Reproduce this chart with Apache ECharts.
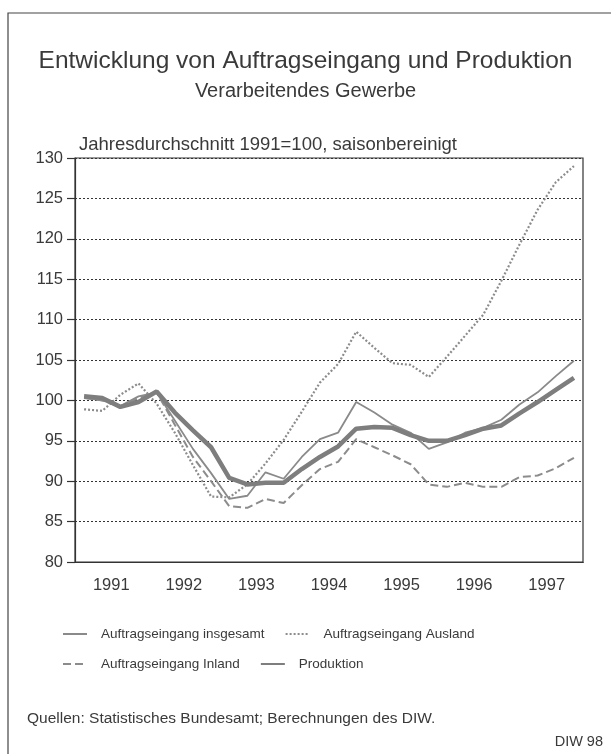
<!DOCTYPE html>
<html>
<head>
<meta charset="utf-8">
<script src="https://cdn.jsdelivr.net/npm/echarts@6/dist/echarts.min.js"></script>
<style>
  html, body { margin: 0; padding: 0; background: #fff; }
  #chart { width: 611px; height: 754px; }
</style>
</head>
<body>
<div id="chart"></div>
<script>
// Quartale 1991 I bis 1997 IV
var quarters = [];
var years = ["1991", "1992", "1993", "1994", "1995", "1996", "1997"];
years.forEach(function (y) {
  for (var q = 1; q <= 4; q++) quarters.push(y + " Q" + q);
});

var insgesamt = [100.3, 100.0, 99.3, 100.5, 101.0, 97.5, 94.0, 91.0, 87.8, 88.2, 91.1, 90.3, 93.0, 95.2, 96.0, 99.8,
                 98.5, 97.0, 96.0, 94.0, 94.8, 96.0, 96.6, 97.6, 99.5, 101.0, 103.0, 104.9];
var ausland = [98.9, 98.7, 100.7, 102.1, 99.6, 96.0, 92.0, 88.1, 88.0, 89.6, 92.2, 95.1, 98.6, 102.2, 104.5, 108.5,
               106.5, 104.6, 104.4, 102.9, 105.4, 108.0, 110.6, 114.8, 119.3, 123.6, 127.0, 129.0];
var inland = [100.3, 100.0, 99.2, 100.3, 101.0, 97.0, 93.0, 90.0, 86.9, 86.7, 87.8, 87.3, 89.5, 91.5, 92.4, 95.2,
              94.2, 93.2, 92.1, 89.6, 89.3, 89.8, 89.3, 89.3, 90.5, 90.7, 91.6, 92.9];
var produktion = [100.5, 100.3, 99.2, 99.8, 101.1, 98.5, 96.3, 94.2, 90.4, 89.6, 89.8, 89.8, 91.5, 93.0, 94.3, 96.5,
                  96.7, 96.6, 95.7, 95.0, 95.0, 95.7, 96.5, 96.9, 98.4, 99.8, 101.3, 102.8];
var yTicks = [80, 130, 5];

var myChart = echarts.init(document.getElementById("chart"));
var textColor = "#3a3a3a";
var font = "Liberation Sans";

var option = {
  backgroundColor: "#fff",
  animation: false,
  textStyle: { fontFamily: font },
  title: [
    { text: "Entwicklung von Auftragseingang und Produktion", left: "center", top: 44,
      textStyle: { fontSize: 24.5, fontWeight: "normal", color: textColor, fontFamily: font } },
    { text: "Verarbeitendes Gewerbe", left: "center", top: 76,
      textStyle: { fontSize: 20, fontWeight: "normal", color: textColor, fontFamily: font } },
    { text: "Jahresdurchschnitt 1991=100, saisonbereinigt", left: 74, top: 130,
      textStyle: { fontSize: 18.5, fontWeight: "normal", color: textColor, fontFamily: font } },
    { text: "Quellen: Statistisches Bundesamt; Berechnungen des DIW.", left: 22, top: 706,
      textStyle: { fontSize: 15.5, fontWeight: "normal", color: textColor, fontFamily: font } },
    { text: "DIW 98", right: 3, top: 729,
      textStyle: { fontSize: 14.5, fontWeight: "normal", color: textColor, fontFamily: font } }
  ],
  legend: [
    { data: ["Auftragseingang insgesamt", "Auftragseingang Ausland"], left: 57, top: 622,
      itemWidth: 24, itemHeight: 10, itemGap: 20, itemStyle: { opacity: 0 },
      textStyle: { fontSize: 13.5, color: textColor, padding: [0, 0, 0, 9] } },
    { data: ["Auftragseingang Inland", "Produktion"], left: 57, top: 652,
      itemWidth: 24, itemHeight: 10, itemGap: 20, itemStyle: { opacity: 0 },
      textStyle: { fontSize: 13.5, color: textColor, width: 160, padding: [0, 0, 0, 9] } }
  ],
  graphic: [
    { type: "polyline", shape: { points: [[8, 754], [8, 13], [611, 13]] },
      style: { stroke: "#444", lineWidth: 1.2, fill: null } }
  ],
  grid: { left: 75, right: 28, top: 158, bottom: 192, show: true, borderColor: "#333", borderWidth: 1.2 },
  xAxis: [
    { type: "category", data: quarters, boundaryGap: true,
      axisLine: { lineStyle: { color: "#333", width: 1.2 } },
      axisTick: { interval: 0, length: 7, lineStyle: { color: "#333", width: 1.2 } },
      axisLabel: { show: false }, splitLine: { show: false } },
    { type: "category", data: years, boundaryGap: true, position: "bottom",
      axisLine: { lineStyle: { color: "#333", width: 1.2 } },
      axisTick: { interval: 0, length: 13, lineStyle: { color: "#333", width: 1.2 } },
      axisLabel: { fontSize: 16.5, color: textColor, margin: 15 } }
  ],
  yAxis: {
    type: "value", min: yTicks[0], max: yTicks[1], interval: yTicks[2],
    axisLine: { show: true, lineStyle: { color: "#333", width: 1.2 } },
    axisTick: { show: true, length: 8, lineStyle: { color: "#333", width: 1.2 } },
    axisLabel: { fontSize: 16.5, color: textColor, margin: 12 },
    splitLine: { show: true, lineStyle: { color: "#333", type: [2, 2], width: 1 } }
  },
  series: [
    { name: "Auftragseingang insgesamt", type: "line", data: insgesamt, symbol: "none",
      lineStyle: { color: "#8a8a8a", width: 1.8 }, itemStyle: { color: "#8a8a8a" } },
    { name: "Auftragseingang Ausland", type: "line", data: ausland, symbol: "none",
      lineStyle: { color: "#8c8c8c", width: 2.2, type: [2, 2] }, itemStyle: { color: "#8c8c8c" } },
    { name: "Auftragseingang Inland", type: "line", data: inland, symbol: "none",
      lineStyle: { color: "#8c8c8c", width: 2, type: [8, 4] }, itemStyle: { color: "#8c8c8c" } },
    { name: "Produktion", type: "line", data: produktion, symbol: "none",
      lineStyle: { color: "#7e7e7e", width: 4.5 }, itemStyle: { color: "#7e7e7e" } }
  ]
};

myChart.setOption(option);
window.addEventListener("resize", function () {
  myChart.resize();
});
</script>
</body>
</html>
